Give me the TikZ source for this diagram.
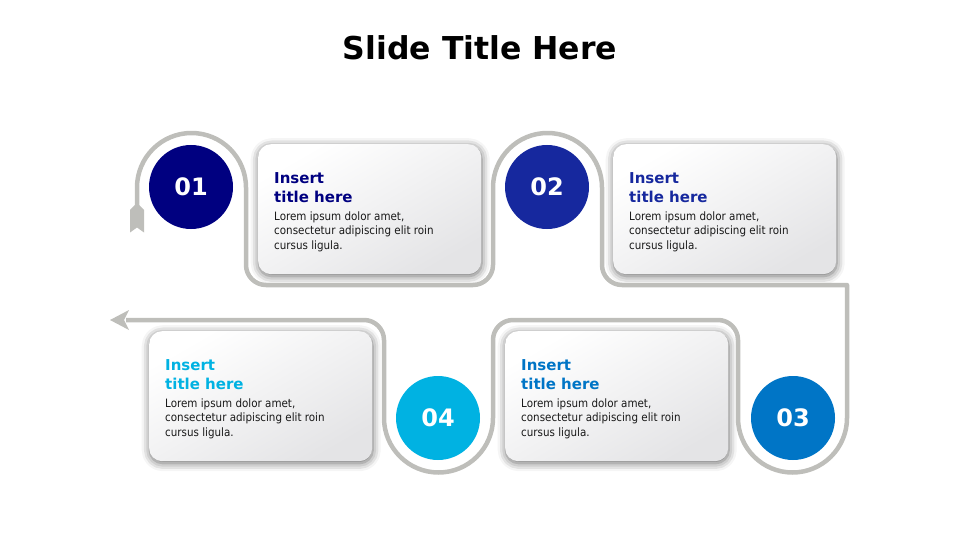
\documentclass[tikz,border=0pt]{standalone}
\usepackage{fontspec}
\setmainfont{DejaVu Sans}
\newfontfamily\condfont{DejaVu Sans Condensed}
\usetikzlibrary{shadows.blur,calc}
\definecolor{cA}{RGB}{0,0,128}
\definecolor{cB}{RGB}{22,40,158}
\definecolor{cC}{RGB}{0,117,198}
\definecolor{cD}{RGB}{0,178,226}
\definecolor{trackcol}{RGB}{190,190,186}
\definecolor{cardgray}{RGB}{228,228,230}
\definecolor{bodycol}{RGB}{25,25,25}
\begin{document}
\begin{tikzpicture}[x=1pt,y=-1pt,
  card/.style={rectangle, rounded corners=13pt, minimum width=223pt, minimum height=130pt,
    inner sep=0pt, draw=none, top color=white, bottom color=cardgray, shading angle=30,
    blur shadow={shadow xshift=0.5pt, shadow yshift=-2pt, shadow blur radius=8pt, shadow opacity=60}},
  ttl/.style={font=\bfseries\fontsize{15}{18}\selectfont, inner sep=0pt, anchor=base west},
  body/.style={font=\condfont\fontsize{11.5}{14}\selectfont, text=bodycol, inner sep=0pt, anchor=base west},
  num/.style={circle, minimum size=84pt, inner sep=0pt, text=white, font=\bfseries\fontsize{24}{28}\selectfont},
  track/.style={draw=trackcol, line width=4.5pt, line join=round}]
\useasboundingbox (0,0) rectangle (960,540);
\node[font=\bfseries\fontsize{31.5}{36}\selectfont, anchor=base, inner sep=0pt] (title) at (480,60) {Slide Title Here};
% cards
\foreach \n/\cx/\cy/\col in {1/258/144/cA, 2/613/144/cB, 3/505/331/cC, 4/149/331/cD} {
  \node[card, anchor=north west] (card\n) at (\cx,\cy) {};
  \node[ttl, text=\col] (ttlA\n) at ($(card\n.north west)+(16,39)$) {Insert};
  \node[ttl, text=\col] (ttlB\n) at ($(card\n.north west)+(16,58)$) {title here};
  \node[body] (bodyA\n) at ($(card\n.north west)+(16,76)$) {Lorem ipsum dolor amet,};
  \node[body] (bodyB\n) at ($(card\n.north west)+(16,90.5)$) {consectetur adipiscing elit roin};
  \node[body] (bodyC\n) at ($(card\n.north west)+(16,105)$) {cursus ligula.};
}
% track
\coordinate (start) at (137,207);
\coordinate (tip) at (110,320);
\coordinate (tipback) at (126,320);
\draw[track] (start) -- (137,187.5) arc[start angle=180,end angle=360,radius=54.5]
  -- (246,265) arc[start angle=180,end angle=90,radius=20]
  -- (473,285) arc[start angle=90,end angle=0,radius=20]
  -- (493,187.5) arc[start angle=180,end angle=360,radius=54.5]
  -- (602,265) arc[start angle=180,end angle=90,radius=20]
  -- (847,285) -- (847,418) arc[start angle=0,end angle=180,radius=54.5]
  -- (738,340) arc[start angle=0,end angle=-90,radius=20]
  -- (513,320) arc[start angle=270,end angle=180,radius=20]
  -- (493,418) arc[start angle=0,end angle=180,radius=54.5]
  -- (384,340) arc[start angle=0,end angle=-90,radius=20]
  -- (tipback);
\fill[trackcol] (tip) -- (129,310) -- (124,320) -- (129,330) -- cycle;
\fill[trackcol] (134.75,205) -- (130,210) -- (130,232.5) -- (137,227.5) -- (144,232.5) -- (144,210) -- (139.25,205) -- cycle;
% circles
\node[num, fill=cA] (n1) at (191,187) {01};
\node[num, fill=cB] (n2) at (547,187) {02};
\node[num, fill=cC] (n3) at (793,418) {03};
\node[num, fill=cD] (n4) at (438,418) {04};
\end{tikzpicture}
\end{document}
